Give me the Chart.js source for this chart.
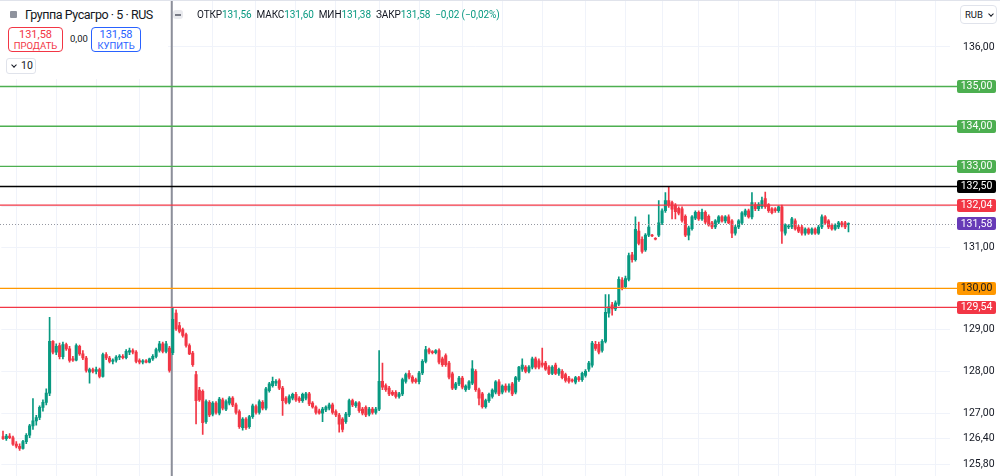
<!DOCTYPE html>
<html>
<head>
<meta charset="utf-8">
<script src="https://cdn.jsdelivr.net/npm/chart.js@4.4.1/dist/chart.umd.min.js"></script>
<style>
  html, body { margin: 0; padding: 0; background: #fff; }
  body { font-family: Roboto, "Noto Sans", sans-serif; color: #131722; }
  #wrap { position: relative; width: 1000px; height: 476px; overflow: hidden; }
  #chart { position: absolute; left: 0; top: 0; }
  .abs { position: absolute; white-space: nowrap; }
  #topline { left: 0; top: 0; width: 1000px; height: 1px; background: #e0e3eb; }
  #legendBg { left: 0; top: 1px; width: 168px; height: 78px; background: #fff; }
  #ico { left: 10px; top: 11px; width: 7px; height: 7px; background: #8f939d; border-radius: 1px; }
  #title { left: 25px; top: 6px; font-size: 12.5px; line-height: 17px; letter-spacing: -0.45px; }
  .btn { top: 27px; height: 25px; border: 1px solid; border-radius: 4px; text-align: center;
         font-size: 11px; line-height: 11px; padding-top: 1px; box-sizing: border-box; }
  .btn small { display: block; font-size: 9.5px; line-height: 11px; }
  #sell { left: 8px; width: 55px; border-color: #f23645; color: #f23645; }
  #buy { left: 91px; width: 50px; border-color: #2962ff; color: #2962ff; }
  #spread { left: 70px; top: 33px; font-size: 9.5px; }
  #vol { left: 6px; top: 58px; width: 30px; height: 16px; border: 1px solid #e0e3eb; border-radius: 3px;
         box-sizing: border-box; font-size: 10.5px; line-height: 14px; padding-left: 14px; }
  .chev { position: absolute; width: 3px; height: 3px; border-right: 1.2px solid #131722;
          border-bottom: 1.2px solid #131722; transform: rotate(45deg); }
  #eq { left: 173px; top: 10px; width: 10px; height: 9px; background: #e9eaee; border-radius: 3px; }
  #eq i { position: absolute; left: 2px; top: 4px; width: 6px; height: 1.5px; background: #787b86; }
  #ohlc { left: 197px; top: 8px; font-size: 10px; line-height: 14px; letter-spacing: -0.1px; }
  #ohlc b { font-weight: normal; color: #131722; }
  #ohlc span { color: #089981; margin-right: 5px; }
  #rub { left: 960px; top: 5px; width: 37px; height: 19px; border: 1px solid #e0e3eb; border-radius: 4px;
         box-sizing: border-box; font-size: 9.5px; line-height: 17px; padding-left: 4px; background: #fff; }
</style>
</head>
<body>
<div id="wrap">
  <canvas id="chart" width="1000" height="476"></canvas>
  <div class="abs" id="topline"></div>
  <div class="abs" id="legendBg"></div>
  <div class="abs" id="ico"></div>
  <div class="abs" id="title">Группа Русагро · 5 · RUS</div>
  <div class="abs btn" id="sell">131,58<small>ПРОДАТЬ</small></div>
  <div class="abs" id="spread">0,00</div>
  <div class="abs btn" id="buy">131,58<small>КУПИТЬ</small></div>
  <div class="abs" id="vol"><span class="chev" style="left:5px;top:4px"></span>10</div>
  <div class="abs" id="eq"><i></i></div>
  <div class="abs" id="ohlc"><b>ОТКР</b><span>131,56</span><b>МАКС</b><span>131,60</span><b>МИН</b><span>131,38</span><b>ЗАКР</b><span>131,58</span><span>−0,02 (−0,02%)</span></div>
  <div class="abs" id="rub">RUB<span class="chev" style="left:28px;top:6px"></span></div>
</div>
<script>
// 5-minute candles
const opens = [
  126.45,126.40,126.46,126.42,126.27,126.22,126.17,126.33,126.48,126.70,
  126.82,126.90,127.14,127.26,127.48,128.72,128.46,128.62,128.35,128.64,
  128.54,128.30,128.27,128.60,128.42,128.32,127.98,128.04,128.00,128.04,
  127.88,128.40,128.32,128.24,128.27,128.34,128.36,128.33,128.46,128.50,
  128.46,128.26,128.22,128.25,128.22,128.30,128.36,128.50,128.66,128.48,
  128.56,128.45,129.40,129.10,129.00,128.88,128.62,128.44,127.92,127.55,
  127.52,126.80,127.26,126.98,127.24,127.00,127.32,127.10,127.24,127.36,
  127.20,127.04,126.66,126.86,126.68,126.92,127.16,127.02,127.26,127.12,
  127.54,127.66,127.72,127.78,127.60,127.36,127.26,127.36,127.45,127.36,
  127.30,127.36,127.46,127.24,127.15,127.06,127.00,127.08,127.12,127.20,
  127.04,126.96,126.86,126.80,126.96,127.30,127.18,127.25,127.10,127.14,
  126.98,127.10,127.02,127.10,127.76,127.66,127.60,127.50,127.50,127.40,
  127.46,127.76,127.95,127.86,127.80,127.75,127.96,128.24,128.52,128.46,
  128.45,128.50,128.30,128.38,128.20,127.94,127.60,127.70,127.84,127.56,
  127.60,127.72,128.00,127.56,127.46,127.16,127.30,127.40,127.50,127.75,
  127.50,127.65,127.55,127.70,127.50,127.80,128.05,128.10,128.00,128.10,
  128.30,128.25,128.20,128.20,128.10,127.95,128.15,127.95,128.00,127.92,
  127.84,127.78,127.74,127.85,127.80,127.90,128.05,128.15,128.65,128.65,
  128.50,128.72,129.40,129.60,129.50,129.62,130.20,130.04,130.22,130.82,
  130.70,131.40,131.20,130.94,131.30,131.30,131.22,131.30,131.60,131.90,
  132.15,132.10,132.04,131.96,131.95,131.76,131.30,131.46,131.72,131.86,
  131.70,131.86,131.76,131.60,131.50,131.62,131.75,131.65,131.75,131.65,
  131.35,131.50,131.60,131.80,131.90,131.75,132.05,131.95,132.00,132.20,
  132.05,131.95,131.95,131.90,132.00,131.35,131.50,131.50,131.65,131.50,
  131.50,131.35,131.45,131.35,131.45,131.35,131.50,131.75,131.65,131.55,
  131.45,131.50,131.60,131.60,131.56
];
const highs = [
  126.58,126.50,126.52,126.46,126.33,126.28,126.36,126.52,126.74,127.35,
  126.95,127.18,127.32,127.58,129.30,128.74,128.66,128.68,128.70,128.68,
  128.60,128.36,128.66,128.63,128.50,128.36,128.08,128.08,128.10,128.08,
  128.44,128.45,128.36,128.30,128.38,128.40,128.40,128.52,128.56,128.54,
  128.50,128.30,128.28,128.28,128.32,128.40,128.56,128.72,128.70,128.72,
  128.60,129.54,129.48,129.18,129.04,128.92,128.66,128.48,128.00,127.62,
  127.56,127.32,127.30,127.28,127.28,127.38,127.36,127.32,127.40,127.40,
  127.24,127.08,126.90,126.90,126.95,127.22,127.20,127.32,127.30,127.62,
  127.74,127.86,127.80,127.82,127.64,127.40,127.44,127.48,127.50,127.40,
  127.48,127.50,127.50,127.28,127.18,127.10,127.14,127.18,127.24,127.24,
  127.08,127.00,126.90,127.02,127.34,127.34,127.28,127.28,127.14,127.18,
  127.14,127.14,127.14,128.50,128.20,127.70,127.64,127.54,127.54,127.50,
  127.84,127.96,128.02,127.90,127.84,128.00,128.28,128.60,128.56,128.50,
  128.52,128.54,128.34,128.42,128.24,127.98,127.74,127.88,127.88,127.68,
  127.78,128.26,128.04,127.60,127.50,127.34,127.48,127.58,127.78,127.80,
  127.68,127.70,127.70,127.74,127.88,128.12,128.30,128.14,128.14,128.34,
  128.34,128.30,128.56,128.24,128.14,128.14,128.20,128.08,128.04,127.96,
  127.88,127.82,127.88,127.88,127.98,128.04,128.24,128.72,128.72,128.70,
  128.76,129.85,129.85,129.66,129.70,130.28,130.26,130.30,130.86,130.88,
  131.75,131.62,131.26,131.34,131.80,131.32,131.24,132.15,131.95,132.35,
  132.50,132.14,132.08,132.00,132.00,131.80,131.52,131.78,131.90,131.90,
  131.94,131.90,131.80,131.64,131.68,131.78,131.78,131.78,131.80,131.68,
  131.54,131.68,131.88,131.94,131.94,132.35,132.10,132.10,132.24,132.36,
  132.08,131.98,131.98,132.02,132.04,131.58,131.56,131.74,131.70,131.54,
  131.54,131.48,131.48,131.48,131.48,131.54,131.80,131.78,131.68,131.58,
  131.58,131.64,131.64,131.64,131.60
];
const lows = [
  126.38,126.36,126.40,126.24,126.18,126.12,126.15,126.28,126.42,126.62,
  126.72,126.85,127.05,127.20,127.42,128.42,128.40,128.30,128.30,128.50,
  128.22,128.24,128.25,128.38,128.28,127.98,127.72,127.96,127.94,127.84,
  127.86,128.28,128.20,128.18,128.22,128.28,128.30,128.30,128.40,128.42,
  128.20,128.18,128.18,128.20,128.20,128.26,128.32,128.46,128.44,128.44,
  127.98,128.40,128.98,128.92,128.82,128.58,128.40,128.12,126.75,127.28,
  126.50,126.76,126.92,126.94,126.98,126.96,127.08,127.06,127.20,127.16,
  126.98,126.64,126.60,126.62,126.64,126.88,126.98,126.98,127.08,127.08,
  127.50,127.62,127.66,127.56,126.95,127.22,127.22,127.32,127.28,127.26,
  127.26,127.32,127.18,127.12,126.98,126.98,126.80,127.04,127.08,126.98,
  126.92,126.55,126.56,126.76,126.92,127.16,127.14,127.02,126.96,126.92,
  126.94,126.98,126.98,127.06,127.56,127.52,127.42,127.42,127.36,127.36,
  127.42,127.72,127.82,127.72,127.72,127.70,127.92,128.20,128.42,128.42,
  128.42,128.18,128.12,128.12,127.82,127.56,127.56,127.66,127.58,127.52,
  127.56,127.68,127.52,127.20,127.12,127.12,127.26,127.36,127.46,127.42,
  127.46,127.50,127.50,127.42,127.46,127.76,128.00,127.96,127.96,128.06,
  128.06,128.06,128.10,128.02,127.92,127.92,127.92,127.90,127.82,127.74,
  127.72,127.74,127.70,127.76,127.76,127.86,128.00,128.10,128.50,128.42,
  128.46,128.68,129.30,129.35,129.46,129.58,129.96,130.00,130.18,130.64,
  130.66,131.06,130.86,130.90,131.26,131.26,131.18,131.26,131.56,131.86,
  131.98,131.70,131.70,131.80,131.62,131.26,131.18,131.42,131.68,131.66,
  131.66,131.58,131.52,131.46,131.46,131.58,131.62,131.60,131.58,131.24,
  131.30,131.46,131.56,131.76,131.72,131.70,131.90,131.90,131.96,131.96,
  131.86,131.82,131.86,131.86,131.10,131.30,131.46,131.46,131.42,131.36,
  131.30,131.30,131.32,131.32,131.32,131.32,131.46,131.56,131.46,131.42,
  131.42,131.46,131.50,131.46,131.38
];
const closes = [
  126.40,126.46,126.42,126.27,126.22,126.17,126.33,126.48,126.70,126.82,
  126.90,127.14,127.26,127.48,128.72,128.46,128.60,128.35,128.64,128.54,
  128.26,128.27,128.62,128.42,128.32,128.02,128.04,128.00,128.04,127.88,
  128.40,128.32,128.24,128.27,128.34,128.36,128.33,128.48,128.50,128.46,
  128.24,128.22,128.25,128.22,128.30,128.36,128.52,128.66,128.48,128.66,
  128.02,129.25,129.02,128.96,128.86,128.62,128.42,128.16,127.30,127.32,
  126.78,127.28,126.96,127.24,127.02,127.34,127.12,127.28,127.36,127.20,
  127.02,126.68,126.86,126.66,126.92,127.18,127.02,127.28,127.12,127.58,
  127.70,127.76,127.76,127.60,127.30,127.26,127.40,127.45,127.32,127.30,
  127.45,127.46,127.22,127.15,127.02,127.00,127.10,127.15,127.20,127.02,
  126.96,126.74,126.62,126.98,127.30,127.20,127.25,127.06,127.00,126.96,
  127.10,127.02,127.10,127.76,127.62,127.56,127.46,127.45,127.40,127.46,
  127.80,127.92,127.86,127.76,127.75,127.96,128.24,128.52,128.46,128.45,
  128.50,128.22,128.16,128.16,127.86,127.60,127.70,127.84,127.62,127.65,
  127.75,128.06,127.56,127.36,127.16,127.30,127.45,127.55,127.75,127.46,
  127.65,127.55,127.65,127.46,127.85,128.10,128.15,128.00,128.10,128.30,
  128.10,128.10,128.15,128.05,127.95,128.10,127.95,128.05,127.85,127.78,
  127.76,127.77,127.85,127.80,127.95,128.00,128.20,128.68,128.55,128.46,
  128.72,129.42,129.55,129.50,129.65,130.22,130.02,130.24,130.80,130.70,
  131.44,131.10,130.90,131.30,131.50,131.28,131.20,131.60,131.90,132.15,
  132.04,131.94,131.88,131.84,131.66,131.30,131.48,131.75,131.86,131.70,
  131.86,131.62,131.55,131.50,131.65,131.75,131.65,131.75,131.60,131.35,
  131.50,131.65,131.85,131.90,131.75,132.10,131.95,132.05,132.15,132.00,
  131.90,131.85,131.90,132.00,131.40,131.55,131.52,131.70,131.45,131.40,
  131.35,131.45,131.35,131.45,131.35,131.50,131.75,131.60,131.50,131.45,
  131.55,131.60,131.55,131.50,131.58
];

// price axis ticks and drawn horizontal levels
const priceTicks = [125.8, 126.4, 127, 128, 129, 130, 131, 132, 133, 134, 135, 136];
const levelPrices = [135, 134, 133, 132.5, 132.04, 130, 129.54];
const levelColors = ['#4caf50', '#4caf50', '#4caf50', '#000000', '#f23645', '#ff9800', '#f23645'];
const levelText = ['#fff', '#fff', '#fff', '#fff', '#fff', '#131722', '#fff'];
const lastPrice = 131.58;
const markerIndex = 51;
const futureBars = 30;
const gridIndex = [4, 16, 28, 41, 51, 63, 76, 88, 100, 113, 125, 138, 150, 162, 175, 187, 198, 209, 221, 233, 244, 256, 268, 280];

const UP = '#089981', DOWN = '#f23645';
const fmt = v => v.toFixed(2).replace('.', ',');

const labels = [];
for (let i = 0; i < opens.length + futureBars; i++) labels.push(i);
const colors = opens.map((o, i) => closes[i] >= o ? UP : DOWN);

const levelsPlugin = {
    id: 'levels',
    beforeDatasetsDraw(chart) {
        const { ctx } = chart;
        const x = chart.scales.x.getPixelForValue(markerIndex) - 1;
        ctx.save();
        ctx.strokeStyle = '#8c8f99';
        ctx.lineWidth = 2;
        ctx.beginPath();
        ctx.moveTo(x, 0);
        ctx.lineTo(x, chart.height);
        ctx.stroke();
        ctx.restore();
    },
    afterDatasetsDraw(chart) {
        const { ctx, chartArea } = chart;
        const y = chart.scales.y;
        ctx.save();
        // current price, dotted
        const py = Math.round(y.getPixelForValue(lastPrice)) + 0.5;
        ctx.strokeStyle = '#9598a1';
        ctx.lineWidth = 1;
        ctx.setLineDash([1, 2]);
        ctx.beginPath();
        ctx.moveTo(0, py);
        ctx.lineTo(chartArea.right + 7, py);
        ctx.stroke();
        ctx.setLineDash([]);
        levelPrices.forEach((p, i) => {
            const ly = y.getPixelForValue(p);
            ctx.strokeStyle = levelColors[i];
            ctx.lineWidth = levelColors[i] === '#000000' ? 1.6 : 1.4;
            ctx.beginPath();
            ctx.moveTo(0, ly);
            ctx.lineTo(chartArea.right + 7, ly);
            ctx.stroke();
        });
        ctx.restore();
    },
    afterDraw(chart) {
        const { ctx, chartArea } = chart;
        const y = chart.scales.y;
        const bx = chartArea.right + 7, bw = 39, bh = 13;
        const box = (p, bg, fg) => {
            const cy = y.getPixelForValue(p);
            ctx.fillStyle = bg;
            ctx.beginPath();
            ctx.roundRect(bx, Math.round(cy - bh / 2), bw, bh, 2);
            ctx.fill();
            ctx.fillStyle = fg;
            ctx.font = '10.5px Roboto';
            ctx.textAlign = 'center';
            ctx.textBaseline = 'middle';
            ctx.fillText(fmt(p), bx + bw / 2, Math.round(cy) + 0.5);
        };
        ctx.save();
        levelPrices.forEach((p, i) => box(p, levelColors[i], levelText[i]));
        box(lastPrice, '#673ab7', '#fff');
        ctx.restore();
    }
};

Chart.defaults.font.family = 'Roboto';

new Chart(document.getElementById('chart'), {
    type: 'bar',
    data: {
        labels: labels,
        datasets: [
            {
                label: 'body',
                data: opens.map((o, i) => [o, closes[i]]),
                backgroundColor: colors,
                barThickness: 2.4,
                minBarLength: 1,
                grouped: false,
                order: 0
            },
            {
                label: 'wick',
                data: lows.map((l, i) => [l, highs[i]]),
                backgroundColor: colors,
                barThickness: 1,
                grouped: false,
                order: 1
            }
        ]
    },
    options: {
        responsive: false,
        animation: false,
        events: [],
        layout: { padding: { left: 1.33, top: 0, bottom: 0, right: 0 } },
        plugins: { legend: { display: false }, tooltip: { enabled: false } },
        scales: {
            x: {
                type: 'category',
                offset: true,
                border: { display: false },
                grid: { color: '#f0f3fa', offset: false, drawTicks: false },
                ticks: { display: false },
                afterBuildTicks: s => { s.ticks = gridIndex.map(v => ({ value: v })); },
                afterFit: s => { s.height = 0; }
            },
            y: {
                type: 'logarithmic',
                position: 'right',
                bounds: 'data',
                min: 125.52,
                max: 137.2,
                border: { display: false },
                grid: { color: '#f0f3fa', drawTicks: false },
                ticks: {
                    padding: 13,
                    color: '#131722',
                    font: { size: 10.5 },
                    autoSkip: false,
                    callback: v => levelPrices.concat(lastPrice).some(l => Math.abs(l - v) < 0.1) ? '' : fmt(v)
                },
                afterBuildTicks: s => { s.ticks = priceTicks.map(v => ({ value: v })); },
                afterFit: s => { s.width = 50; s.paddingTop = 0; s.paddingBottom = 0; }
            }
        }
    },
    plugins: [levelsPlugin]
});
</script>
</body>
</html>
